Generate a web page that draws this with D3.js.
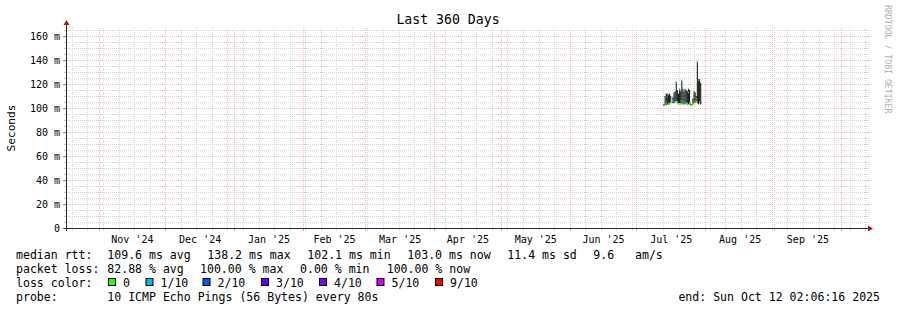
<!DOCTYPE html>
<html><head><meta charset="utf-8">
<script src="https://cdn.jsdelivr.net/npm/d3@7"></script>
<style>
html,body{margin:0;padding:0;background:#fff;}
svg{display:block;}
text{font-family:"DejaVu Sans Mono",monospace;fill:#000;}
</style></head>
<body>
<svg id="chart" width="897" height="310"></svg>
<script>
// ---------- data ----------
const title = "Last 360 Days";
const yAxisTitle = "Seconds";
const rangeStart = "2024-10-17T14:00:00Z";
const rangeEnd = "2025-10-12T14:00:00Z";
const yMax = 166.67;
const yTickValues = [0, 20, 40, 60, 80, 100, 120, 140, 160];
const yTickLabels = ["0", "20 m", "40 m", "60 m", "80 m", "100 m", "120 m", "140 m", "160 m"];
const monthStarts = ["2024-11-01","2024-12-01","2025-01-01","2025-02-01","2025-03-01","2025-04-01","2025-05-01","2025-06-01","2025-07-01","2025-08-01","2025-09-01","2025-10-01"];
const monthLabels = ["Nov '24","Dec '24","Jan '25","Feb '25","Mar '25","Apr '25","May '25","Jun '25","Jul '25","Aug '25","Sep '25"];

const sampleTimes = ["2025-07-13T00:00Z","2025-07-13T12:00Z","2025-07-14T00:00Z","2025-07-14T12:00Z","2025-07-15T00:00Z","2025-07-15T12:00Z","2025-07-16T00:00Z","2025-07-16T12:00Z","2025-07-17T00:00Z","2025-07-17T12:00Z","2025-07-18T00:00Z","2025-07-18T12:00Z","2025-07-19T00:00Z","2025-07-19T12:00Z","2025-07-20T00:00Z","2025-07-20T12:00Z","2025-07-21T00:00Z","2025-07-21T12:00Z","2025-07-22T00:00Z","2025-07-22T12:00Z","2025-07-23T00:00Z","2025-07-23T12:00Z","2025-07-24T00:00Z","2025-07-24T12:00Z","2025-07-25T00:00Z","2025-07-25T12:00Z","2025-07-26T00:00Z","2025-07-26T12:00Z","2025-07-27T00:00Z","2025-07-27T12:00Z","2025-07-28T00:00Z","2025-07-28T12:00Z","2025-07-29T00:00Z","2025-07-29T12:00Z","2025-07-30T00:00Z"];
const smokeLow  = [102, 102.5, 102.5, 103, 103, 103, 104, null, 104, 104, 105, 106, 104, 103, 104, 103, 104, 103, 103, 104, 103, 103, 103, 103, 102, 102, 103, 104, 104, 106, 104, 103, 104, 103];
const smokeHigh = [103, 110, 112, 112, 111, 112, 110, null, 109, 113, 114, 122, 115, 112, 116, 114, 123, 116, 114, 116, 115, 114, 116, 115, 103.5, 103.5, 108, 114, 113, 110, 138.6, 124, 124, 121];
const medianRtt = [102.5, 103, 104, 110, 104, 103.5, 105, null, 106, 107, 105, 121, 105, 103.5, 115, 104, 106, 104, 105, 115, 104, 104, 113, 104, 102.5, 102.5, 103.5, 105, 105, 108, 138.2, 123, 105, 104];
const lossCount = [9, 0, 0, 1, 1, 0, 0, null, 1, 2, 0, 1, 0, 0, 1, 0, 0, 0, 1, 1, 0, 0, 0, 0, 0, 0, 0, 0, 0, 0, 1, 0, 0, 3];

const lossKeys = [0, 1, 2, 3, 4, 5, 9];
const lossLabels = ["0", "1/10", "2/10", "3/10", "4/10", "5/10", "9/10"];
const lossColors = ["#26ff00", "#00b8ff", "#0059ff", "#5e00ff", "#7e00ff", "#dd00ff", "#ff0000"];

const legendRtt = [["median rtt:", 16], ["109.6 ms avg", 107.3], ["138.2 ms max", 207.3], ["102.1 ms min", 307.3], ["103.0 ms now", 407.3], ["11.4 ms sd", 507.3], ["9.6", 593.3], ["am/s", 635]];
const legendLoss = [["packet loss:", 16], ["82.88 % avg", 107.3], ["100.00 % max", 200], ["0.00 % min", 300], ["100.00 % now", 386.7]];
const legendBoxX = [108.5, 146, 203, 261.5, 319.5, 377, 435.5];
const legendProbe = [["probe:", 16], ["10 ICMP Echo Pings (56 Bytes) every 80s", 107.3]];
const endText = "end: Sun Oct 12 02:06:16 2025";

// ---------- scales ----------
const svg = d3.select("#chart");
const X0 = 67, X1 = 867, Y0 = 228, Y1 = 28;
const x = d3.scaleUtc().domain([new Date(rangeStart), new Date(rangeEnd)]).range([X0, X1]);
const y = d3.scaleLinear().domain([0, yMax]).range([Y0, Y1]);
const crisp = v => Math.round(v) + 0.5;

svg.append("rect").attr("width", 897).attr("height", 310).attr("fill", "#fff");

const minorCol = "#d4d4d4", majorCol = "#f5b8b8";
const g = svg.append("g");

// horizontal minor grid
const yMinor = d3.range(5, yMax, 5).filter(v => v % 20 !== 0);
yMinor.forEach(v => {
  const yy = crisp(y(v) - 0.5);
  g.append("line").attr("x1", X0 - 1).attr("x2", X1 + 1).attr("y1", yy).attr("y2", yy)
    .attr("stroke", minorCol).attr("stroke-dasharray", "1,1");
  g.append("line").attr("x1", X0 - 3).attr("x2", X0 - 1).attr("y1", yy).attr("y2", yy).attr("stroke", "#ccc");
  g.append("line").attr("x1", X1).attr("x2", X1 + 2).attr("y1", yy).attr("y2", yy).attr("stroke", "#ddd");
});
// vertical minor grid (weeks)
const tStart = new Date(rangeStart), tEnd = new Date(rangeEnd);
d3.utcSunday.range(tStart, tEnd).forEach(d => {
  const xx = crisp(x(d) - 0.5);
  g.append("line").attr("x1", xx).attr("x2", xx).attr("y1", Y1).attr("y2", Y0)
    .attr("stroke", minorCol).attr("stroke-dasharray", "1,1");
  g.append("line").attr("x1", xx).attr("x2", xx).attr("y1", Y0 + 1).attr("y2", Y0 + 3).attr("stroke", "#ddd");
});
// vertical major grid (months)
monthStarts.forEach(s => {
  const xx = crisp(x(new Date(s + "T00:00:00Z")) - 0.5);
  g.append("line").attr("x1", xx).attr("x2", xx).attr("y1", Y1).attr("y2", Y0)
    .attr("stroke", majorCol).attr("stroke-dasharray", "1,1");
  g.append("line").attr("x1", xx).attr("x2", xx).attr("y1", Y0 + 1).attr("y2", Y0 + 3).attr("stroke", "#f0a0a0");
});
// horizontal major grid
yTickValues.forEach(v => {
  if (v === 0) return;
  const yy = crisp(y(v) - 0.5);
  g.append("line").attr("x1", X0 - 1).attr("x2", X1 + 1).attr("y1", yy).attr("y2", yy)
    .attr("stroke", majorCol).attr("stroke-dasharray", "1,1");
  g.append("line").attr("x1", X1).attr("x2", X1 + 2).attr("y1", yy).attr("y2", yy).attr("stroke", "#f0a0a0");
});
yTickValues.forEach(v => {
  const yy = crisp(y(v) - 0.5);
  g.append("line").attr("x1", X0 - 4).attr("x2", X0 - 1).attr("y1", yy).attr("y2", yy).attr("stroke", "#888");
});

// ---------- data: smoke ----------
const times = sampleTimes.map(s => new Date(s));
const dg = svg.append("g");
for (let i = 0; i < smokeLow.length; i++) {
  if (smokeLow[i] == null) continue;
  const xa = x(times[i]), xb = x(times[i + 1]);
  dg.append("rect").attr("x", xa).attr("width", xb - xa)
    .attr("y", y(smokeHigh[i])).attr("height", Math.max(1, y(smokeLow[i]) - y(smokeHigh[i])))
    .attr("fill", "#222");
}
// median line coloured by loss (horizontal steps)
const colorOf = c => lossColors[lossKeys.indexOf(c)];
for (let i = 0; i < medianRtt.length; i++) {
  if (medianRtt[i] == null) continue;
  const xa = x(times[i]), xb = x(times[i + 1]);
  const col = colorOf(lossCount[i]);
  dg.append("path").attr("d", `M${xa},${y(medianRtt[i])}L${xb},${y(medianRtt[i])}`)
    .attr("fill", "none").attr("stroke", col).attr("stroke-width", 1.5);
}

// ---------- axes ----------
const axCol = "#2a2a2a", arrowCol = "#9a1e1e";
svg.append("line").attr("x1", X0 - 3).attr("x2", X1 + 2).attr("y1", Y0 + 0.5).attr("y2", Y0 + 0.5).attr("stroke", axCol);
svg.append("line").attr("x1", X0 - 0.5).attr("x2", X0 - 0.5).attr("y1", Y0 + 3).attr("y2", Y1 - 3).attr("stroke", axCol);
svg.append("path").attr("d", `M${X1 + 1},${Y0 - 2.5}L${X1 + 6},${Y0 + 0.5}L${X1 + 1},${Y0 + 3.5}Z`).attr("fill", arrowCol);
svg.append("path").attr("d", `M${X0 - 3.5},${Y1 - 3}L${X0 - 0.5},${Y1 - 8}L${X0 + 2.5},${Y1 - 3}Z`).attr("fill", arrowCol);

// y labels
yTickValues.forEach((v, i) => {
  svg.append("text").attr("x", 60).attr("y", y(v) + 3.5).attr("text-anchor", "end")
    .attr("font-size", "10px").text(yTickLabels[i]);
});
// x labels at month midpoints
monthLabels.forEach((lab, i) => {
  const a = x(new Date(monthStarts[i] + "T00:00:00Z"));
  const b = x(new Date(monthStarts[i + 1] + "T00:00:00Z"));
  svg.append("text").attr("x", (a + b) / 2).attr("y", 242.5).attr("text-anchor", "middle")
    .attr("font-size", "10px").text(lab);
});

// title
svg.append("text").attr("x", 448).attr("y", 23.5).attr("text-anchor", "middle").attr("font-size", "13.2px").text(title);
// y axis title
svg.append("text").attr("transform", "translate(15,128) rotate(-90)").attr("text-anchor", "middle")
  .attr("font-size", "11.2px").text(yAxisTitle);
// watermark
svg.append("text").attr("transform", "translate(885,5) rotate(90)").attr("text-anchor", "start")
  .attr("font-size", "8.2px").style("fill", "#b0b0b0").text("RRDTOOL / TOBI OETIKER");

// ---------- legend ----------
const LF = "11.55px";
function row(items, yb) {
  items.forEach(([t, xx]) => svg.append("text").attr("x", xx).attr("y", yb).attr("font-size", LF)
    .attr("xml:space", "preserve").text(t));
}
row(legendRtt, 258.5);
row(legendLoss, 272.5);
svg.append("text").attr("x", 16).attr("y", 286.5).attr("font-size", LF).text("loss color:");
lossLabels.forEach((lab, i) => {
  svg.append("rect").attr("x", legendBoxX[i]).attr("y", 278.5).attr("width", 7).attr("height", 7)
    .attr("fill", lossColors[i]).attr("stroke", "#000").attr("stroke-width", 1);
  svg.append("text").attr("x", legendBoxX[i] + 14.5).attr("y", 286.5).attr("font-size", LF).text(lab);
});
row(legendProbe, 300.5);
svg.append("text").attr("x", 880).attr("y", 300.5).attr("text-anchor", "end").attr("font-size", LF).text(endText);
</script>
</body></html>
